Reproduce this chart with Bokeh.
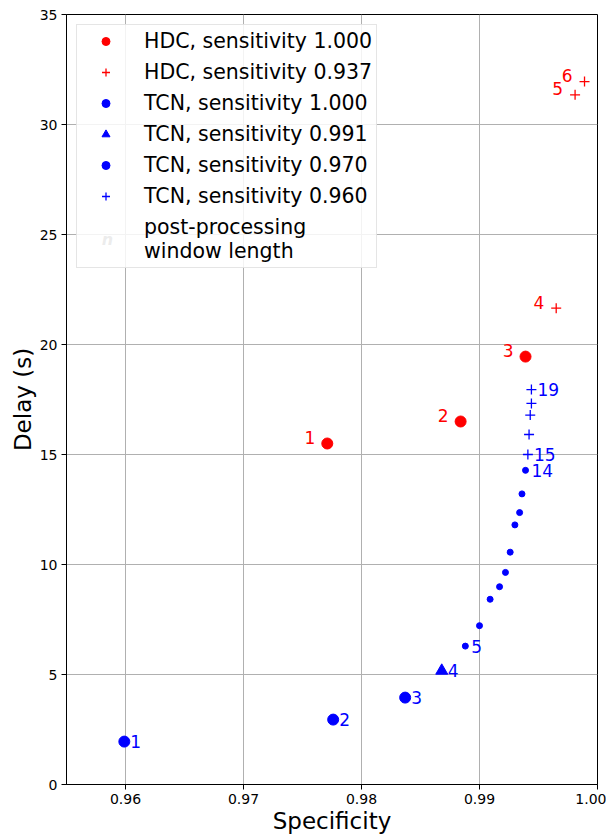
from bokeh.plotting import figure
from bokeh.models import (ColumnDataSource, Legend, LegendItem, Range1d,
                          FixedTicker, NumeralTickFormatter, Label)
from bokeh.core.properties import value
from bokeh.embed import file_html
from bokeh.resources import INLINE

# ---- data ----
hdc_a_spec = [0.9771, 0.9884, 0.9939]
hdc_a_delay = [15.5, 16.5, 19.45]
hdc_a_n = ["1", "2", "3"]

hdc_b_spec = [0.9965, 0.9981, 0.9989]
hdc_b_delay = [21.65, 31.35, 31.95]
hdc_b_n = ["4", "5", "6"]

tcn_a_spec = [0.9599, 0.9776, 0.9837]
tcn_a_delay = [1.95, 2.95, 3.95]
tcn_a_n = ["1", "2", "3"]

tcn_b_spec = [0.9868]
tcn_b_delay = [5.17]
tcn_b_n = ["4"]

tcn_c_spec = [0.9888, 0.9900, 0.9909, 0.9917, 0.9922, 0.9926, 0.9930, 0.9934, 0.9936, 0.9939]
tcn_c_delay = [6.29, 7.22, 8.42, 8.99, 9.64, 10.56, 11.80, 12.36, 13.21, 14.28]
tcn_c_n = ["5", "", "", "", "", "", "", "", "", "14"]

tcn_d_spec = [0.9941, 0.9942, 0.9943, 0.9944, 0.9944]
tcn_d_delay = [15.0, 15.91, 16.79, 17.32, 17.95]
tcn_d_n = ["15", "", "", "", "19"]

x_ticks = [0.96, 0.97, 0.98, 0.99, 1.00]
y_ticks = [0, 5, 10, 15, 20, 25, 30, 35]

legend_labels = ["HDC, sensitivity 1.000", "HDC, sensitivity 0.937",
                 "TCN, sensitivity 1.000", "TCN, sensitivity 0.991",
                 "TCN, sensitivity 0.970", "TCN, sensitivity 0.960",
                 "post-processing\nwindow length"]
legend_n_symbol = "n"

RED = "#ff0000"
BLUE = "#0000ff"
FONT = "DejaVu Sans"

FW, FH = 531, 770

p = figure(frame_width=FW, frame_height=FH, x_range=Range1d(0.955, 1.0), y_range=Range1d(0, 35),
           output_backend="svg", toolbar_location=None,
           min_border_left=66, min_border_right=9, min_border_top=14, min_border_bottom=40)

p.background_fill_color = "white"
p.border_fill_color = "white"
p.outline_line_color = "black"
p.outline_line_width = 1
p.outline_line_alpha = 1

for ax in (p.xaxis, p.yaxis):
    ax.major_tick_out = 5
    ax.major_tick_in = 0
    ax.minor_tick_line_color = None
    ax.axis_line_color = "black"
    ax.major_tick_line_color = "black"
    ax.major_label_text_font = FONT
    ax.major_label_text_font_size = "14px"
    ax.major_label_text_color = "black"
    ax.axis_label_text_font = FONT
    ax.axis_label_text_font_size = "23px"
    ax.axis_label_text_font_style = "normal"
    ax.axis_label_text_color = "black"
    ax.major_label_standoff = 4
    ax.axis_label_standoff = 1

p.xaxis.ticker = FixedTicker(ticks=x_ticks)
p.xaxis.formatter = NumeralTickFormatter(format="0.00")
p.yaxis.ticker = FixedTicker(ticks=y_ticks)
p.xaxis.axis_label = "Specificity"
p.yaxis.axis_label = "Delay (s)"

p.xgrid.grid_line_color = "#b0b0b0"
p.ygrid.grid_line_color = "#b0b0b0"
p.xgrid.grid_line_width = 1
p.ygrid.grid_line_width = 1

src_ha = ColumnDataSource(dict(x=hdc_a_spec, y=hdc_a_delay, n=hdc_a_n))
src_hb = ColumnDataSource(dict(x=hdc_b_spec, y=hdc_b_delay, n=hdc_b_n))
src_ta = ColumnDataSource(dict(x=tcn_a_spec, y=tcn_a_delay, n=tcn_a_n))
src_tb = ColumnDataSource(dict(x=tcn_b_spec, y=tcn_b_delay, n=tcn_b_n))
src_tc = ColumnDataSource(dict(x=tcn_c_spec, y=tcn_c_delay, n=tcn_c_n))
src_td = ColumnDataSource(dict(x=tcn_d_spec, y=tcn_d_delay, n=tcn_d_n))

r_ha = p.scatter("x", "y", source=src_ha, marker="circle", size=11, color=RED)
r_hb = p.scatter("x", "y", source=src_hb, marker="cross", size=10, line_color=RED, line_width=1.3)
r_ta = p.scatter("x", "y", source=src_ta, marker="circle", size=11, color=BLUE)
r_tb = p.scatter("x", "y", source=src_tb, marker="triangle", size=12, color=BLUE)
r_tc = p.scatter("x", "y", source=src_tc, marker="circle", size=6, color=BLUE)
r_td = p.scatter("x", "y", source=src_td, marker="cross", size=10, line_color=BLUE, line_width=1.3)

for s in (src_ha, src_hb):
    p.text("x", "y", text="n", source=s, text_color=RED, text_font=value(FONT),
           text_font_size=value("17px"), text_align="right", text_baseline="middle",
           x_offset=-12, y_offset=-6)
for s in (src_ta, src_tb, src_tc, src_td):
    p.text("x", "y", text="n", source=s, text_color=BLUE, text_font=value(FONT),
           text_font_size=value("17px"), text_align="left", text_baseline="middle",
           x_offset=6, y_offset=0)

# invisible placeholder renderer for the last legend row
r_n = p.scatter(x=[], y=[], marker="circle", size=1, fill_alpha=0, line_alpha=0)

legend = Legend(items=[LegendItem(label=lab, renderers=[r])
                       for lab, r in zip(legend_labels, [r_ha, r_hb, r_ta, r_tb, r_tc, r_td, r_n])],
                location="top_left")
legend.label_text_font = FONT
legend.label_text_font_size = "20.5px"
legend.label_text_color = "black"
legend.label_height = 20
legend.glyph_height = 20
legend.glyph_width = 49
legend.label_standoff = 14
legend.spacing = 7
legend.padding = 4
legend.margin = 10
legend.border_line_color = "#cccccc"
legend.border_line_width = 1
legend.background_fill_color = "white"
legend.background_fill_alpha = 0.85
p.add_layout(legend)

# the "n" symbol of the last legend row (screen units relative to the frame)
p.add_layout(Label(x=41, y=FH - 225, x_units="screen", y_units="screen",
                   text=legend_n_symbol, text_color="gray", text_font=FONT,
                   text_font_size="16px", text_font_style="bold italic",
                   text_align="center", text_baseline="middle", level="overlay"))

open("out.html", "w").write(file_html(p, INLINE))
